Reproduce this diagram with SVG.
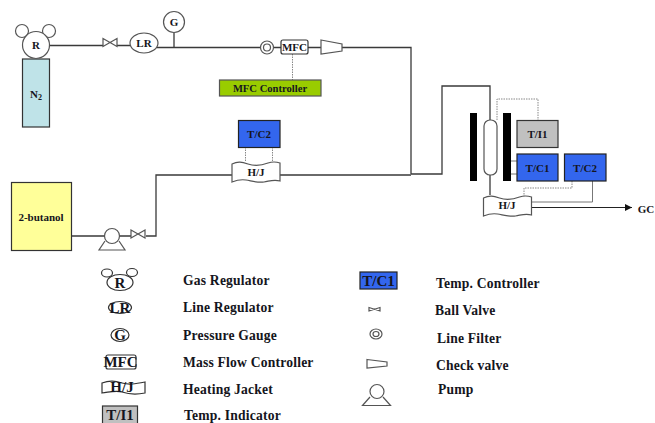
<svg xmlns="http://www.w3.org/2000/svg" width="655" height="423" viewBox="0 0 655 423">
<style>
text{font-family:"Liberation Serif","Times New Roman",serif;font-weight:bold;fill:#151520;text-anchor:middle}
.l{font-size:13.6px;text-anchor:start;letter-spacing:.2px}
.n{font-size:11px}
.k{font-size:15px}
.s{stroke:#333;stroke-width:1.2;fill:#fff}
.w{stroke:#555;stroke-width:1.2;fill:#fff}
.p{stroke:#3a3a3a;stroke-width:1.3;fill:none}
.d{stroke:#888;stroke-width:1;stroke-dasharray:1.5 1;fill:none}
.g{stroke:#777;stroke-width:1;fill:none}
.b{fill:#3366ee;stroke:#222;stroke-width:1.2}
.y{fill:#c0c0c0;stroke:#333;stroke-width:1.2}
</style>
<defs>
<marker id="arr" markerWidth="8" markerHeight="8" refX="7" refY="3.5" orient="auto" markerUnits="userSpaceOnUse"><path d="M0 0L7 3.5L0 7z" fill="#111"/></marker>
<path id="hj" d="M0 3C6 0 10 1 16 3S28 5 36 2Q42 0 48 2V20C42 18 38 20 32 21S20 20 14 19S5 19 0 21Z"/>
<path id="bv" d="M0 0L14 8V0L0 8Z"/>
</defs>
<g id="connectors">
<path class="p" d="M50 45.500H103M117 45.500H131M157 47.500H260M174 33V47.500M274 47.500H281M308 47.500H321M342 47.500H411V174"/>
<path class="p" d="M72 236H105M120 236H131M146 236H156V175H232M280 175H411M411 174H442V86H490V120M490 175V195"/>
<path class="d" d="M292.500 54V80M245.500 147V162M272.500 147V162M497 120V99H538V120M572 181V188H524V196"/>
<path class="g" d="M511 161H517M511 174H517M592.500 181V202H531"/>
<path d="M531 207.500H632" stroke="#222" stroke-width="1.200" fill="none" marker-end="url(#arr)"/>
</g>
<g id="n2"><rect x="22.500" y="59" width="27" height="68" fill="#bfe3e8" stroke="#333" stroke-width="1.200"/><text class="n" x="36" y="98">N<tspan font-size="8" dy="2">2</tspan></text></g>
<g id="regulator"><circle class="w" cx="22" cy="31" r="6.500"/><circle class="w" cx="49" cy="31" r="6.500"/><circle class="w" cx="36" cy="45" r="13.500"/><text class="n" x="36" y="49">R</text></g>
<g id="valve1"><use href="#bv" x="103" y="38.500" class="w"/></g>
<g id="lr"><ellipse class="w" cx="144" cy="43" rx="14" ry="10"/><text class="n" x="144" y="47">LR</text></g>
<g id="gauge"><circle class="w" cx="174" cy="22" r="10.500"/><text class="n" x="174" y="26">G</text></g>
<g id="filter"><circle class="w" cx="267" cy="47.500" r="6.500"/><circle class="w" cx="267" cy="47.500" r="3.500"/></g>
<g id="mfc"><rect class="s" x="281" y="40" width="27" height="14" rx="2"/><text class="n" x="294.500" y="51">MFC</text></g>
<g id="check"><path class="w" d="M321 40L342 44V51L321 54Z"/></g>
<g id="mfc-controller"><rect x="219.500" y="80" width="101.500" height="16" fill="#99cc00" stroke="#555" stroke-width="1.200"/><text x="270" y="92" font-size="10.600">MFC Controller</text></g>
<g id="tc2a"><rect class="b" x="238.500" y="120.500" width="41.500" height="27"/><text class="n" x="259" y="138">T/C2</text></g>
<g id="hj1"><use href="#hj" x="232" y="161" class="w"/><text class="n" x="256" y="176">H/J</text></g>
<g id="butanol"><rect x="11.500" y="182.500" width="60" height="68" fill="#ffff99" stroke="#333" stroke-width="1.200"/><text class="n" x="41" y="221">2-butanol</text></g>
<g id="pump"><path class="w" d="M105 241L99 250H125L119 241"/><circle class="w" cx="112" cy="236" r="7.500"/></g>
<g id="valve2"><use href="#bv" x="131" y="230" class="w"/></g>
<g id="reactor"><rect x="470" y="113" width="7" height="68" fill="#000"/><rect x="503" y="113" width="8" height="68" fill="#000"/><rect class="w" x="484" y="120" width="13" height="55" rx="6"/></g>
<g id="ti1"><rect class="y" x="517" y="120.500" width="41" height="27"/><text class="n" x="537.500" y="138">T/I1</text></g>
<g id="tc1"><rect class="b" x="517" y="154" width="41" height="27"/><text class="n" x="537.500" y="172">T/C1</text></g>
<g id="tc2b"><rect class="b" x="564.500" y="154" width="41.500" height="27"/><text class="n" x="585" y="172">T/C2</text></g>
<g id="hj2"><use href="#hj" x="483.500" y="195" class="w"/><text class="n" x="507" y="209">H/J</text></g>
<g id="gc"><text class="n" x="646" y="213">GC</text></g>
<g id="legend">
<ellipse class="s" cx="107" cy="273" rx="5.500" ry="4"/><ellipse class="s" cx="132" cy="272.500" rx="5.500" ry="4"/><ellipse class="s" cx="120" cy="282.500" rx="13" ry="8"/><text class="k" x="120" y="287.500">R</text>
<ellipse class="s" cx="120" cy="307.500" rx="11.500" ry="6"/><text class="k" x="120" y="312.500">LR</text>
<ellipse class="s" cx="120" cy="335" rx="9" ry="6.500"/><text class="k" x="120" y="340">G</text>
<rect class="s" x="106" y="355" width="30" height="14" rx="2"/><text class="k" x="120.500" y="367">MFC</text>
<path class="s" d="M102 383C110 380 115 381 122 383S135 384 145 382V393C135 395 128 394 122 392S110 392 102 393Z"/><text class="k" x="122" y="392">H/J</text>
<rect class="y" x="102.500" y="406" width="35" height="18"/><text class="k" x="120" y="420">T/I1</text>
<rect class="b" x="360" y="272" width="37" height="17"/><text class="k" x="378.500" y="286">T/C1</text>
<path class="w" d="M369 307.500L380 311V307.500L369 311Z"/>
<ellipse class="w" cx="376" cy="334" rx="6" ry="5"/><ellipse class="w" cx="376" cy="334" rx="3" ry="2.500"/>
<path class="w" d="M367 359.500L387 362V366L367 368Z"/>
<path class="w" d="M370 397L362.500 405.500H390.500L383 397"/><circle class="w" cx="377" cy="391.500" r="7"/>
<text class="l" x="183" y="285">Gas Regulator</text>
<text class="l" x="183" y="312">Line Regulator</text>
<text class="l" x="183" y="340">Pressure Gauge</text>
<text class="l" x="183" y="367">Mass Flow Controller</text>
<text class="l" x="183" y="394">Heating Jacket</text>
<text class="l" x="184" y="419.500">Temp. Indicator</text>
<text class="l" x="436" y="288">Temp. Controller</text>
<text class="l" x="435" y="315">Ball Valve</text>
<text class="l" x="437" y="343">Line Filter</text>
<text class="l" x="436" y="370">Check valve</text>
<text class="l" x="438" y="394">Pump</text>
</g>
</svg>
